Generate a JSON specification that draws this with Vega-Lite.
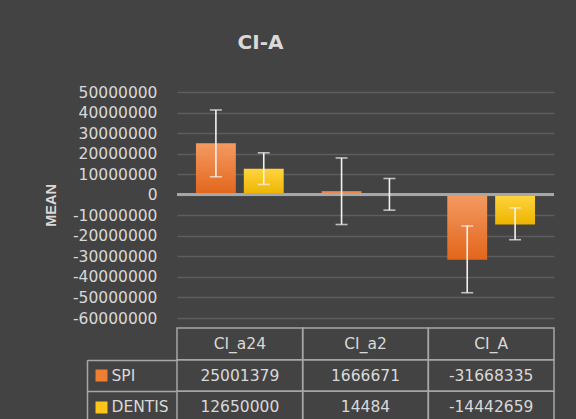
{
  "$schema": "https://vega.github.io/schema/vega-lite/v6.json",
  "background": "#434343",
  "padding": {"left": 43, "top": 33, "right": 20, "bottom": 5},
  "spacing": 0,
  "config": {
    "view": {"stroke": null},
    "font": "DejaVu Sans",
    "axisY": {"labelOverlap": false}
  },
  "datasets": {
    "d": [
      {"cat": "CI_a24", "series": "SPI", "mean": 25001379, "lo": 8750000, "hi": 41250000},
      {"cat": "CI_a2", "series": "SPI", "mean": 1666671, "lo": -14500000, "hi": 17900000},
      {"cat": "CI_A", "series": "SPI", "mean": -31668335, "lo": -47700000, "hi": -15200000},
      {"cat": "CI_a24", "series": "DENTIS", "mean": 12650000, "lo": 5000000, "hi": 20400000},
      {"cat": "CI_a2", "series": "DENTIS", "mean": 14484, "lo": -7500000, "hi": 7900000},
      {"cat": "CI_A", "series": "DENTIS", "mean": -14442659, "lo": -21900000, "hi": -6400000}
    ]
  },
  "vconcat": [
    {
      "width": 377,
      "height": 226,
      "data": {"name": "d"},
      "title": {"text": "CI-A", "frame": "group", "anchor": "middle", "dx": -105, "offset": 16, "baseline": "alphabetic", "font": "DejaVu Sans", "fontWeight": "bold", "fontSize": 20, "color": "#d9d9d9"},
      "layer": [
        {
          "transform": [{"filter": "datum.series === 'SPI'"}],
          "mark": {"type": "bar", "color": {"gradient": "linear", "x1": 0, "y1": 0, "x2": 0, "y2": 1, "stops": [{"offset": 0, "color": "#f39a62"}, {"offset": 1, "color": "#e2661b"}]}},
          "encoding": {
            "x": {"field": "cat", "type": "nominal", "sort": ["CI_a24", "CI_a2", "CI_A"], "scale": {"paddingInner": 0, "paddingOuter": 0}, "axis": null},
            "xOffset": {"field": "series", "type": "nominal", "scale": {"domain": ["SPI", "DENTIS"], "paddingInner": 0.1667, "paddingOuter": 0.396}},
            "y": {"field": "mean", "type": "quantitative", "scale": {"domain": [-60000000, 50000000], "nice": false},
              "axis": {"title": "MEAN", "values": [-60000000, -50000000, -40000000, -30000000, -20000000, -10000000, 0, 10000000, 20000000, 30000000, 40000000, 50000000],
                "labelExpr": "toString(datum.value)", "labelFont": "DejaVu Sans", "labelFontSize": 15.5, "labelColor": "#d9d9d9", "labelPadding": 20, "labelOverlap": false,
                "ticks": false, "domain": false, "grid": true, "gridColor": "#5d5d5d", "gridWidth": 1.3,
                "titleFont": "Liberation Sans", "titleFontWeight": "bold", "titleFontSize": 14.5, "titleColor": "#d9d9d9", "titlePadding": 14}}
          }
        },
        {
          "transform": [{"filter": "datum.series === 'DENTIS'"}],
          "mark": {"type": "bar", "color": {"gradient": "linear", "x1": 0, "y1": 0, "x2": 0, "y2": 1, "stops": [{"offset": 0, "color": "#ffd43f"}, {"offset": 1, "color": "#eeb400"}]}},
          "encoding": {
            "x": {"field": "cat", "type": "nominal", "sort": ["CI_a24", "CI_a2", "CI_A"]},
            "xOffset": {"field": "series", "type": "nominal"},
            "y": {"field": "mean", "type": "quantitative",
              "axis": {"title": "MEAN", "values": [-60000000, -50000000, -40000000, -30000000, -20000000, -10000000, 0, 10000000, 20000000, 30000000, 40000000, 50000000],
                "labelExpr": "toString(datum.value)", "labelFont": "DejaVu Sans", "labelFontSize": 15.5, "labelColor": "#d9d9d9", "labelPadding": 20, "labelOverlap": false,
                "ticks": false, "domain": false, "grid": true, "gridColor": "#5d5d5d", "gridWidth": 1.3,
                "titleFont": "Liberation Sans", "titleFontWeight": "bold", "titleFontSize": 14.5, "titleColor": "#d9d9d9", "titlePadding": 14}}
          }
        },
        {
          "mark": {"type": "rule", "color": "#a8a8a8", "strokeWidth": 2.5},
          "encoding": {"y": {"datum": 0, "type": "quantitative",
              "axis": {"title": "MEAN", "values": [-60000000, -50000000, -40000000, -30000000, -20000000, -10000000, 0, 10000000, 20000000, 30000000, 40000000, 50000000],
                "labelExpr": "toString(datum.value)", "labelFont": "DejaVu Sans", "labelFontSize": 15.5, "labelColor": "#d9d9d9", "labelPadding": 20, "labelOverlap": false,
                "ticks": false, "domain": false, "grid": true, "gridColor": "#5d5d5d", "gridWidth": 1.3,
                "titleFont": "Liberation Sans", "titleFontWeight": "bold", "titleFontSize": 14.5, "titleColor": "#d9d9d9", "titlePadding": 14}}}
        },
        {
          "mark": {"type": "rule", "color": "#f2f2f2", "strokeWidth": 1.6},
          "encoding": {
            "x": {"field": "cat", "type": "nominal", "sort": ["CI_a24", "CI_a2", "CI_A"]},
            "xOffset": {"field": "series", "type": "nominal"},
            "y": {"field": "lo", "type": "quantitative",
              "axis": {"title": "MEAN", "values": [-60000000, -50000000, -40000000, -30000000, -20000000, -10000000, 0, 10000000, 20000000, 30000000, 40000000, 50000000],
                "labelExpr": "toString(datum.value)", "labelFont": "DejaVu Sans", "labelFontSize": 15.5, "labelColor": "#d9d9d9", "labelPadding": 20, "labelOverlap": false,
                "ticks": false, "domain": false, "grid": true, "gridColor": "#5d5d5d", "gridWidth": 1.3,
                "titleFont": "Liberation Sans", "titleFontWeight": "bold", "titleFontSize": 14.5, "titleColor": "#d9d9d9", "titlePadding": 14}},
            "y2": {"field": "hi"}
          }
        },
        {
          "mark": {"type": "tick", "color": "#f2f2f2", "size": 12, "thickness": 1.6},
          "encoding": {
            "x": {"field": "cat", "type": "nominal", "sort": ["CI_a24", "CI_a2", "CI_A"]},
            "xOffset": {"field": "series", "type": "nominal"},
            "y": {"field": "lo", "type": "quantitative",
              "axis": {"title": "MEAN", "values": [-60000000, -50000000, -40000000, -30000000, -20000000, -10000000, 0, 10000000, 20000000, 30000000, 40000000, 50000000],
                "labelExpr": "toString(datum.value)", "labelFont": "DejaVu Sans", "labelFontSize": 15.5, "labelColor": "#d9d9d9", "labelPadding": 20, "labelOverlap": false,
                "ticks": false, "domain": false, "grid": true, "gridColor": "#5d5d5d", "gridWidth": 1.3,
                "titleFont": "Liberation Sans", "titleFontWeight": "bold", "titleFontSize": 14.5, "titleColor": "#d9d9d9", "titlePadding": 14}}
          }
        },
        {
          "mark": {"type": "tick", "color": "#f2f2f2", "size": 12, "thickness": 1.6},
          "encoding": {
            "x": {"field": "cat", "type": "nominal", "sort": ["CI_a24", "CI_a2", "CI_A"]},
            "xOffset": {"field": "series", "type": "nominal"},
            "y": {"field": "hi", "type": "quantitative",
              "axis": {"title": "MEAN", "values": [-60000000, -50000000, -40000000, -30000000, -20000000, -10000000, 0, 10000000, 20000000, 30000000, 40000000, 50000000],
                "labelExpr": "toString(datum.value)", "labelFont": "DejaVu Sans", "labelFontSize": 15.5, "labelColor": "#d9d9d9", "labelPadding": 20, "labelOverlap": false,
                "ticks": false, "domain": false, "grid": true, "gridColor": "#5d5d5d", "gridWidth": 1.3,
                "titleFont": "Liberation Sans", "titleFontWeight": "bold", "titleFontSize": 14.5, "titleColor": "#d9d9d9", "titlePadding": 14}}
          }
        }
      ]
    },
    {
      "width": 377,
      "height": 95,
      "data": {"name": "d"},
      "resolve": {"axis": {"y": "independent"}},
      "layer": [
        {
          "mark": {"type": "rect", "filled": false, "color": "#a6a6a6", "strokeWidth": 1.5},
          "encoding": {
            "x": {"field": "cat", "type": "nominal", "sort": ["CI_a24", "CI_a2", "CI_A"], "scale": {"paddingInner": 0, "paddingOuter": 0}, "axis": null},
            "y": {"field": "series", "type": "nominal", "scale": {"domain": ["hdr", "SPI", "DENTIS"], "paddingInner": 0, "paddingOuter": 0},
              "axis": {"orient": "left", "title": null, "labels": false, "offset": 90, "tickBand": "extent", "tickSize": -90, "tickWidth": 1.5,
                "tickColor": {"condition": {"test": "datum.extra", "value": "transparent"}, "value": "#a6a6a6"},
                "domain": true, "domainColor": "#a6a6a6", "domainWidth": 1.5, "domainDash": [0, 31.7, 63.3], "grid": false}}
          }
        },
        {
          "transform": [{"filter": "datum.series === 'SPI'"}],
          "mark": {"type": "rect", "filled": false, "color": "#a6a6a6", "strokeWidth": 1.5},
          "encoding": {
            "x": {"field": "cat", "type": "nominal", "sort": ["CI_a24", "CI_a2", "CI_A"]},
            "y": {"datum": "hdr", "type": "nominal", "axis": null}
          }
        },
        {
          "mark": {"type": "text", "color": "#d9d9d9", "fontSize": 15.5, "font": "DejaVu Sans"},
          "encoding": {
            "x": {"field": "cat", "type": "nominal", "sort": ["CI_a24", "CI_a2", "CI_A"]},
            "y": {"field": "series", "type": "nominal",
              "axis": {"orient": "left", "title": null, "offset": 70, "domain": false, "grid": false, "tickBand": "center", "tickSize": 12, "tickWidth": 12, "tickCap": "butt",
                "tickColor": {"condition": [{"test": "datum.value === 'SPI'", "value": "#ef7d32"}, {"test": "datum.value === 'DENTIS'", "value": "#ffc41a"}], "value": "transparent"},
                "labelExpr": "datum.value === 'hdr' ? '' : datum.value", "labelAlign": "left", "labelPadding": -16,
                "labelFont": "DejaVu Sans", "labelFontSize": 15.5, "labelColor": "#d9d9d9"}},
            "text": {"field": "mean", "type": "nominal"}
          }
        },
        {
          "transform": [{"filter": "datum.series === 'SPI'"}],
          "mark": {"type": "text", "color": "#d9d9d9", "fontSize": 15.5, "font": "DejaVu Sans"},
          "encoding": {
            "x": {"field": "cat", "type": "nominal", "sort": ["CI_a24", "CI_a2", "CI_A"]},
            "y": {"datum": "hdr", "type": "nominal", "axis": null},
            "text": {"field": "cat", "type": "nominal"}
          }
        }
      ]
    }
  ]
}
